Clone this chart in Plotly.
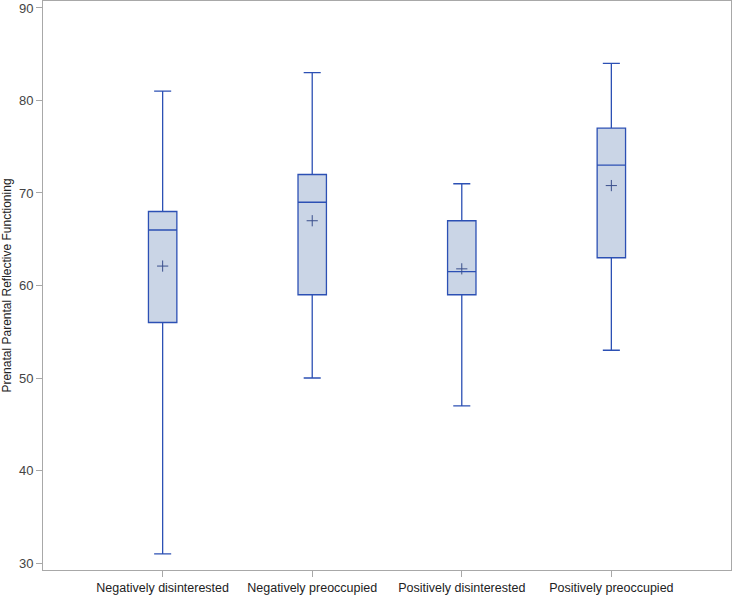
import plotly.graph_objects as go

# group labels and box statistics
groups = ["Negatively disinterested", "Negatively preoccupied",
          "Positively disinterested", "Positively preoccupied"]
lower = [31, 50, 47, 53]
q1 = [56, 59, 59, 63]
median = [66, 69, 61.5, 73]
q3 = [68, 72, 67, 77]
upper = [81, 83, 71, 84]
means = [62.1, 67.0, 61.8, 70.8]

line_col = "#2C50B4"
fill_col = "#CAD5E6"

fig = go.Figure()
fig.add_trace(go.Box(
    x=groups, q1=q1, median=median, q3=q3,
    lowerfence=lower, upperfence=upper,
    fillcolor=fill_col, line=dict(color=line_col, width=1.3),
    whiskerwidth=0.6, width=0.19, boxpoints=False, showlegend=False,
))
fig.add_trace(go.Scatter(
    x=groups, y=means, mode="markers", showlegend=False,
    marker=dict(symbol="cross-thin", size=8,
                line=dict(color="#3A4F8C", width=1)),
))

fig.update_layout(
    width=733, height=595,
    margin=dict(l=43, r=2, t=1, b=25, autoexpand=False),
    plot_bgcolor="white", paper_bgcolor="white",
    font=dict(family="Liberation Sans, Arial, sans-serif", color="#333333"),
)
fig.update_xaxes(
    range=[-0.8, 3.8], showline=True, mirror=True, linecolor="#A8A8A8",
    ticks="outside", ticklen=6, tickcolor="#A8A8A8", automargin=False,
    tickfont=dict(size=12.5, color="#222222"), showgrid=False,
)
fig.update_yaxes(
    range=[29.25, 90.75], tickvals=[30, 40, 50, 60, 70, 80, 90],
    showline=True, mirror=True, linecolor="#A8A8A8", automargin=False,
    ticks="outside", ticklen=6, tickcolor="#A8A8A8",
    tickfont=dict(size=13, color="#444444"), showgrid=False, zeroline=False,
    title=dict(text="Prenatal Parental Reflective Functioning",
               font=dict(size=12, color="#222222"), standoff=4),
)

# page body has a default 8px margin, drop it so the figure sits at 0,0
fig.write_html("out.html", config={"displayModeBar": False},
               post_script="document.body.style.margin='0';")
